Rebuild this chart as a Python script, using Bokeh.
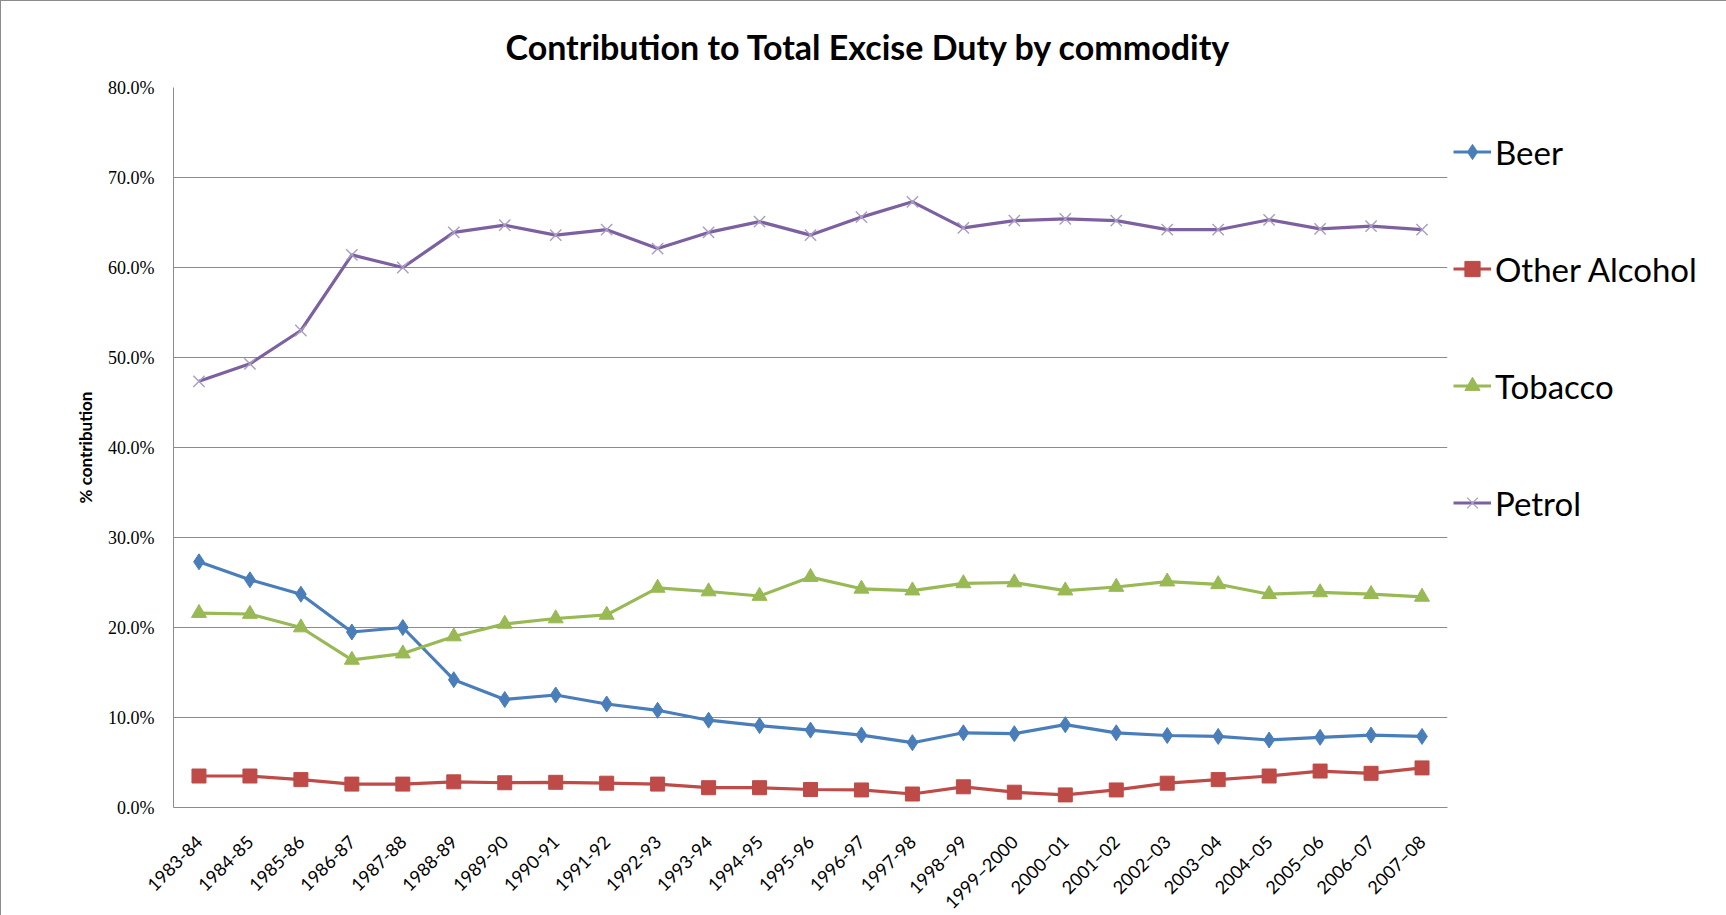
from bokeh.plotting import figure
from bokeh.models import (FactorRange, Range1d, Legend, LegendItem, SingleIntervalTicker,
                          PrintfTickFormatter)
from bokeh.embed import file_html
from bokeh.resources import INLINE
import math

years = ["1983-84", "1984-85", "1985-86", "1986-87", "1987-88", "1988-89", "1989-90",
         "1990-91", "1991-92", "1992-93", "1993-94", "1994-95", "1995-96", "1996-97",
         "1997-98", "1998\u201399", "1999\u20132000", "2000\u201301", "2001\u201302",
         "2002\u201303", "2003\u201304", "2004\u201305", "2005\u201306", "2006\u201307",
         "2007\u201308"]

beer = [27.3, 25.3, 23.7, 19.5, 20.0, 14.2, 12.0, 12.5, 11.5, 10.8, 9.7, 9.1, 8.6, 8.05,
        7.2, 8.3, 8.2, 9.2, 8.3, 8.0, 7.9, 7.5, 7.8, 8.05, 7.9]
other_alcohol = [3.5, 3.5, 3.1, 2.6, 2.6, 2.85, 2.75, 2.8, 2.7, 2.6, 2.2, 2.2, 2.0, 1.95,
                 1.5, 2.3, 1.7, 1.4, 1.95, 2.7, 3.1, 3.5, 4.05, 3.8, 4.4]
tobacco = [21.6, 21.5, 20.0, 16.4, 17.1, 19.0, 20.4, 21.0, 21.4, 24.4, 24.0, 23.5, 25.6, 24.3,
           24.1, 24.9, 25.0, 24.1, 24.5, 25.1, 24.8, 23.7, 23.9, 23.7, 23.4]
petrol = [47.35, 49.3, 53.0, 61.4, 60.0, 63.9, 64.7, 63.6, 64.2, 62.1, 63.9, 65.1, 63.6, 65.6,
          67.3, 64.4, 65.2, 65.4, 65.2, 64.2, 64.2, 65.3, 64.3, 64.6, 64.2]

series_names = ["Beer", "Other Alcohol", "Tobacco", "Petrol"]

FW, FH = 1274, 720
p = figure(frame_width=FW, frame_height=FH,
           x_range=FactorRange(factors=years, range_padding=0),
           y_range=Range1d(0, 80), output_backend="svg", toolbar_location=None,
           min_border_left=172, min_border_right=262, min_border_top=86, min_border_bottom=104)
p.styles = {"border": "1px solid #8c8c8c"}
p.outline_line_color = None
p.background_fill_color = "white"
p.border_fill_color = "white"

p.title.text = "Contribution to Total Excise Duty by commodity"
p.title.text_font = "Lato"
p.title.text_font_style = "bold"
p.title.text_font_size = "34px"
p.title.text_color = "#000000"
p.title.align = "left"
p.title.offset = 332
p.title.standoff = 41

# y axis
p.yaxis.ticker = SingleIntervalTicker(interval=10)
p.yaxis.formatter = PrintfTickFormatter(format="%.1f%%")
p.yaxis.major_label_text_font = "Liberation Serif"
p.yaxis.major_label_text_font_size = "18px"
p.yaxis.major_label_text_color = "#000000"
p.yaxis.major_label_standoff = 13
p.yaxis.major_tick_line_color = None
p.yaxis.minor_tick_line_color = None
p.yaxis.axis_line_color = "#8c8c8c"
p.yaxis.axis_label = "% contribution"
p.yaxis.axis_label_text_font = "Lato"
p.yaxis.axis_label_text_font_style = "bold"
p.yaxis.axis_label_text_font_size = "17px"
p.yaxis.axis_label_text_color = "#000000"
p.yaxis.axis_label_standoff = 9

# x axis
p.xaxis.major_label_orientation = math.pi / 4
p.xaxis.major_label_text_font = "Lato"
p.xaxis.major_label_text_font_size = "18px"
p.xaxis.major_label_text_color = "#000000"
p.xaxis.major_label_standoff = 25
p.xaxis.major_tick_line_color = None
p.xaxis.axis_line_color = "#8c8c8c"

p.xgrid.grid_line_color = None
p.ygrid.grid_line_color = "#8c8c8c"
p.ygrid.grid_line_width = 1

colors = ["#4A7EBB", "#BE4B48", "#98B954", "#7D60A0"]
markers = ["diamond", "square", "triangle", "x"]
sizes = [16, 14, 15, 16]
datas = [beer, other_alcohol, tobacco, petrol]

items = []
for name, data, color, marker, size in zip(series_names, datas, colors, markers, sizes):
    ln = p.line(years, data, line_color=color, line_width=3.2)
    if marker == "x":
        sc = p.scatter(years, data, marker=marker, size=size, line_color="#a99ec2",
                       line_width=1.4)
    else:
        sc = p.scatter(years, data, marker=marker, size=size, fill_color=color,
                       line_color=color, line_width=1)
    items.append(LegendItem(label=name, renderers=[ln, sc]))

legend = Legend(items=items, location="top_left", orientation="vertical",
                label_text_font="Lato", label_text_font_size="33px",
                label_text_color="#000000", glyph_width=38, glyph_height=117,
                label_height=117, spacing=0, padding=0, margin=6, label_standoff=4,
                border_line_color=None, background_fill_alpha=0)
p.add_layout(legend, "right")

open("out.html", "w").write(file_html(p, INLINE))
